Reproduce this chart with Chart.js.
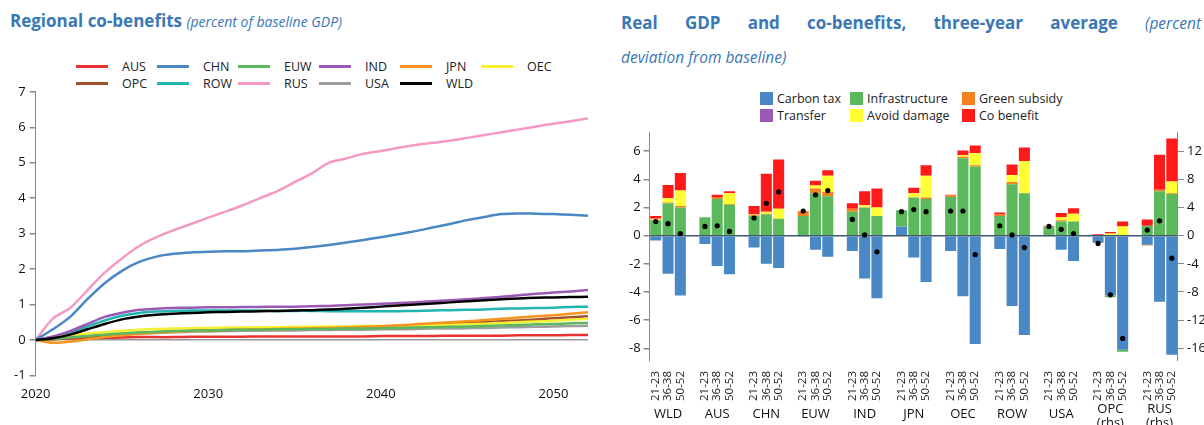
<!DOCTYPE html>
<html>
<head>
<meta charset="utf-8">
<script src="https://cdn.jsdelivr.net/npm/chart.js@4"></script>
<style>
  body { margin: 0; width: 1204px; height: 425px; background: #fff; font-family: "Open Sans", sans-serif; position: relative; overflow: hidden; }
  .title { position: absolute; color: #3a78b5; font-weight: bold; font-size: 17px; line-height: 34px; }
  .title i { font-weight: normal; font-size: 14px; }
  .legend { position: absolute; display: grid; font-size: 12.5px; color: #222; row-gap: 0; }
  .legend span { display: flex; align-items: center; white-space: nowrap; }
  .sw { display: inline-block; margin-right: 4px; }
  #leftWrap { position: absolute; left: 0; top: 80px; width: 598px; height: 345px; }
  #rightWrap { position: absolute; left: 612px; top: 122px; width: 597px; height: 303px; }
</style>
</head>
<body>
<div class="title" style="left:10px;top:4px;">Regional co-benefits <i>(percent of baseline GDP)</i></div>
<div class="title" style="left:621px;top:6px;width:580px;text-align:justify;text-align-last:left;">Real&nbsp; GDP&nbsp; and&nbsp; co-benefits,&nbsp; three-year&nbsp; average&nbsp; <i style="font-size:15.5px">(percent deviation&nbsp;from&nbsp;baseline)</i></div>
<div class="legend" id="leftLegend" style="left:76px;top:58px;grid-template-columns:repeat(6,81px);"></div>
<div class="legend" id="rightLegend" style="left:760px;top:90px;grid-template-columns:90px 112px 110px;"></div>
<div id="leftWrap"><canvas id="leftChart"></canvas></div>
<div id="rightWrap"><canvas id="rightChart"></canvas></div>
<script>
// ---------- left panel data ----------
const years = [];
for (let y = 2020; y <= 2052; y++) years.push(y);

const regions = ["AUS", "CHN", "EUW", "IND", "JPN", "OEC", "OPC", "ROW", "RUS", "USA", "WLD"];
const regionColors = ["#e8322f", "#4a87c5", "#5cb85c", "#9b59b6", "#f7941d", "#f5f032", "#a0522d", "#1fb5b0", "#f49ac2", "#9e9e9e", "#000000"];

const AUS = [0,0.02,0.04,0.05,0.06,0.07,0.08,0.08,0.08,0.09,0.09,0.09,0.09,0.1,0.1,0.1,0.1,0.1,0.1,0.1,0.11,0.11,0.11,0.11,0.12,0.12,0.12,0.12,0.13,0.13,0.13,0.14,0.14];
const CHN = [0,0.3,0.65,1.15,1.6,1.95,2.2,2.35,2.43,2.47,2.49,2.5,2.5,2.52,2.54,2.57,2.62,2.68,2.75,2.82,2.9,2.98,3.07,3.17,3.27,3.38,3.47,3.55,3.57,3.56,3.55,3.53,3.5];
const EUW = [0,0.03,0.07,0.11,0.15,0.18,0.21,0.23,0.25,0.26,0.27,0.28,0.29,0.29,0.3,0.3,0.31,0.31,0.32,0.32,0.33,0.34,0.35,0.36,0.37,0.38,0.39,0.41,0.42,0.44,0.45,0.47,0.48];
const IND = [0,0.1,0.25,0.45,0.65,0.77,0.85,0.88,0.9,0.91,0.92,0.92,0.93,0.93,0.94,0.94,0.95,0.96,0.98,1.0,1.02,1.04,1.06,1.09,1.12,1.15,1.18,1.22,1.26,1.3,1.34,1.37,1.41];
const JPN = [0,-0.08,-0.05,0.02,0.08,0.13,0.17,0.2,0.23,0.25,0.27,0.28,0.29,0.3,0.31,0.32,0.33,0.34,0.35,0.37,0.39,0.41,0.44,0.47,0.5,0.53,0.56,0.6,0.63,0.67,0.7,0.74,0.78];
const OEC = [0,0.08,0.13,0.18,0.22,0.26,0.29,0.31,0.32,0.33,0.34,0.35,0.35,0.36,0.36,0.37,0.37,0.38,0.38,0.39,0.39,0.4,0.41,0.42,0.43,0.44,0.46,0.48,0.5,0.52,0.54,0.57,0.6];
const OPC = [0,0.02,0.06,0.1,0.14,0.17,0.2,0.22,0.24,0.26,0.27,0.28,0.29,0.3,0.31,0.32,0.33,0.34,0.35,0.36,0.38,0.4,0.42,0.44,0.46,0.48,0.5,0.53,0.55,0.58,0.61,0.64,0.67];
const ROW = [0,0.08,0.2,0.38,0.55,0.68,0.76,0.8,0.82,0.83,0.83,0.83,0.83,0.83,0.82,0.82,0.82,0.81,0.81,0.81,0.81,0.81,0.82,0.83,0.84,0.85,0.86,0.88,0.89,0.9,0.91,0.93,0.94];
const RUS = [0,0.6,0.9,1.4,1.9,2.3,2.65,2.9,3.1,3.27,3.45,3.62,3.8,4.0,4.2,4.45,4.7,5.0,5.12,5.25,5.33,5.42,5.5,5.56,5.62,5.7,5.78,5.86,5.94,6.02,6.1,6.17,6.25];
const USA = [0,0.03,0.07,0.1,0.13,0.16,0.18,0.2,0.22,0.23,0.24,0.25,0.26,0.26,0.27,0.27,0.28,0.28,0.29,0.29,0.3,0.3,0.31,0.32,0.32,0.33,0.34,0.35,0.36,0.37,0.38,0.39,0.4];
const WLD = [0,0.05,0.15,0.3,0.45,0.58,0.66,0.71,0.74,0.76,0.78,0.79,0.8,0.81,0.82,0.83,0.84,0.86,0.88,0.91,0.94,0.97,1.0,1.03,1.06,1.09,1.12,1.15,1.17,1.19,1.2,1.21,1.22];
const regionSeries = [AUS, CHN, EUW, IND, JPN, OEC, OPC, ROW, RUS, USA, WLD];
const leftTicks = [-1, 0, 1, 2, 3, 4, 5, 6, 7];
const yearTicks = [2020, 2030, 2040, 2050];

// ---------- right panel data ----------
const groups = ["WLD", "AUS", "CHN", "EUW", "IND", "JPN", "OEC", "ROW", "USA", "OPC", "RUS"];
const groupNames = ["WLD", "AUS", "CHN", "EUW", "IND", "JPN", "OEC", "ROW", "USA", "OPC\n(rhs)", "RUS\n(rhs)"];
const rhsGroups = ["OPC", "RUS"];   // values in right-hand-scale units
const periods = ["21-23", "36-38", "50-52"];
const components = ["Carbon tax", "Infrastructure", "Green subsidy", "Transfer", "Avoid damage", "Co benefit"];
const componentColors = ["#4a87c5", "#5cb85c", "#f58220", "#9b59b6", "#ffff33", "#ff1a1a"];

const carbonTax = [-0.35,-2.7,-4.25, -0.6,-2.15,-2.75, -0.85,-2.0,-2.3, -0.05,-1.0,-1.5, -1.1,-3.05,-4.45, 0.65,-1.55,-3.3, -1.1,-4.3,-7.7, -0.95,-5.0,-7.05, -0.05,-1.0,-1.8, -1.0,-8.5,-16.2, -1.3,-9.4,-16.9];
const infrastructure = [1.1,2.3,2.0, 1.3,2.6,2.2, 1.4,1.5,1.2, 1.4,3.0,2.8, 1.7,2.0,1.4, 1.15,2.7,2.6, 2.75,5.5,4.9, 1.4,3.65,3.0, 0.65,1.0,1.0, 0,-0.25,-0.3, 1.4,6.3,5.9];
const greenSubsidy = [0.03,0.05,0.1, 0,0.15,0.05, 0.05,0.05,0, 0.35,0.35,0.3, 0.2,0,0, -0.05,0,0.1, 0.1,0.1,0.1, 0.1,0.15,0, 0.05,0.1,0, 0,0,0, -0.1,0.2,0.1];
const transfer = [0,0,0, 0,0,0, 0,0,0, 0,0,0, 0,0,0, 0,0,0, 0,0,0, 0,0,0, 0,0,0, 0.1,0,0, 0,0,0];
const avoidDamage = [0.07,0.3,1.1, 0,0,0.75, 0.05,0.15,0.7, 0,0.2,1.15, 0,0.15,0.6, 0,0.3,1.55, 0,0.1,0.85, 0,0.5,2.3, 0,0.2,0.55, 0,0.3,1.3, 0,0,1.7];
const coBenefit = [0.2,0.95,1.25, 0,0.15,0.15, 0.6,2.7,3.5, 0,0.35,0.4, 0.4,1.0,1.35, 0,0.4,0.75, 0.05,0.35,0.55, 0.15,0.75,0.95, 0,0.3,0.4, 0.1,0.2,0.7, 0.9,5.0,6.1];
const realGDP = [1.0,0.85,0.15, 0.65,0.7,0.3, 1.25,2.3,3.1, 1.75,2.9,3.2, 1.15,0.05,-1.15, 1.7,1.85,1.7, 1.75,1.75,-1.35, 0.7,0.05,-0.85, 0.65,0.45,0.15, -1.1,-8.4,-14.6, 0.8,2.1,-3.2];
const componentSeries = [carbonTax, infrastructure, greenSubsidy, transfer, avoidDamage, coBenefit];
const lhsTicks = [-8, -6, -4, -2, 0, 2, 4, 6];
const rhsTicks = [-16, -12, -8, -4, 0, 4, 8, 12];

// ---------- legends ----------
function buildLegend(el, names, colors, swatch) {
  names.forEach((n, i) => {
    const s = document.createElement("span");
    s.innerHTML = `<i class="sw" style="${swatch(colors[i])}"></i>${n}`;
    el.appendChild(s);
  });
}
buildLegend(document.getElementById("leftLegend"), regions, regionColors,
  c => `width:32px;height:3px;background:${c};margin-right:14px;`);
buildLegend(document.getElementById("rightLegend"), components, componentColors,
  c => `width:13px;height:13px;background:${c};`);

// ---------- left chart ----------
new Chart(document.getElementById("leftChart"), {
  type: "line",
  data: {
    datasets: regions.map((r, i) => ({
      label: r,
      data: regionSeries[i].map((v, k) => ({ x: years[k], y: v })),
      borderColor: regionColors[i],
      borderWidth: 2.5,
      pointRadius: 0,
      tension: 0.3,
      order: r === "WLD" ? 0 : (r === "AUS" ? 20 : 10)
    }))
  },
  options: {
    animation: false,
    responsive: true,
    maintainAspectRatio: false,
    layout: { padding: { left: 10, right: 10, top: 4, bottom: 20 } },
    plugins: { legend: { display: false }, tooltip: { enabled: false } },
    scales: {
      x: {
        type: "linear", min: 2020, max: 2052,
        afterBuildTicks: s => { s.ticks = yearTicks.map(v => ({ value: v })); },
        grid: { display: false }, border: { display: false },
        ticks: { color: "#111", font: { size: 13, family: "Open Sans" }, maxRotation: 0, callback: v => String(v) }
      },
      y: {
        min: -1, max: 7,
        afterBuildTicks: s => { s.ticks = leftTicks.map(v => ({ value: v })); },
        grid: { color: c => c.tick && c.tick.value === 0 ? "#999" : "transparent", tickColor: "#888", tickLength: 6, lineWidth: 1.5 },
        border: { color: "#888" },
        ticks: { color: "#111", font: { size: 13, family: "Open Sans" }, padding: 4 }
      }
    }
  }
});

// ---------- right chart ----------
const labels = [];
const slotIndex = [];
groups.forEach((g, gi) => {
  periods.forEach(p => { slotIndex.push(labels.length); labels.push(p); });
  if (gi < groups.length - 1) labels.push("");
});
function toSlots(arr) {
  const out = labels.map(() => null);
  arr.forEach((v, k) => {
    const g = groups[Math.floor(k / 3)];
    out[slotIndex[k]] = rhsGroups.includes(g) ? v / 2 : v;
  });
  return out;
}

const groupNamePlugin = {
  id: "groupNames",
  afterDraw(chart) {
    const ctx = chart.ctx, x = chart.scales.x;
    ctx.save();
    ctx.fillStyle = "#111";
    ctx.font = "13px 'Open Sans'";
    ctx.textAlign = "center";
    groupNames.forEach((n, gi) => {
      const px = x.getPixelForValue(slotIndex[gi * 3 + 1]);
      const lines = n.split("\n");
      const y0 = lines.length > 1 ? chart.height - 12 : chart.height - 7;
      lines.forEach((l, li) => ctx.fillText(l, px, y0 + li * 14));
    });
    ctx.restore();
  }
};

new Chart(document.getElementById("rightChart"), {
  type: "bar",
  data: {
    labels: labels,
    datasets: [
      ...components.map((c, i) => ({
        label: c,
        data: toSlots(componentSeries[i]),
        backgroundColor: componentColors[i],
        stack: "bars",
        barPercentage: 0.9,
        categoryPercentage: 1.0,
        order: 2
      })),
      {
        type: "line",
        label: "Real GDP",
        data: toSlots(realGDP),
        stack: "dots",
        showLine: false,
        pointRadius: 2.6,
        pointBackgroundColor: "#000",
        pointBorderWidth: 0,
        order: 0
      }
    ]
  },
  options: {
    animation: false,
    responsive: true,
    maintainAspectRatio: false,
    layout: { padding: { left: 14, right: 0, top: 4, bottom: 22 } },
    plugins: { legend: { display: false }, tooltip: { enabled: false } },
    scales: {
      x: {
        stacked: true,
        grid: { display: false }, border: { display: false },
        ticks: { autoSkip: false, minRotation: 90, maxRotation: 90, color: "#222", font: { size: 11.5, family: "Open Sans" }, padding: 2 }
      },
      y: {
        stacked: true, min: -8.9, max: 7.3,
        afterBuildTicks: s => { s.ticks = lhsTicks.map(v => ({ value: v })); },
        grid: { color: c => c.tick && c.tick.value === 0 ? "#3f5a6e" : "transparent", tickColor: "#888", tickLength: 6, lineWidth: 1.5 },
        border: { color: "#888" },
        ticks: { color: "#111", font: { size: 13, family: "Open Sans" } }
      },
      y2: {
        position: "right", min: -17.8, max: 14.6,
        afterBuildTicks: s => { s.ticks = rhsTicks.map(v => ({ value: v })); },
        grid: { drawOnChartArea: false, tickColor: "#888", tickLength: 6 },
        border: { color: "#888" },
        ticks: { color: "#111", font: { size: 13, family: "Open Sans" } }
      }
    }
  },
  plugins: [groupNamePlugin]
});
</script>
</body>
</html>
